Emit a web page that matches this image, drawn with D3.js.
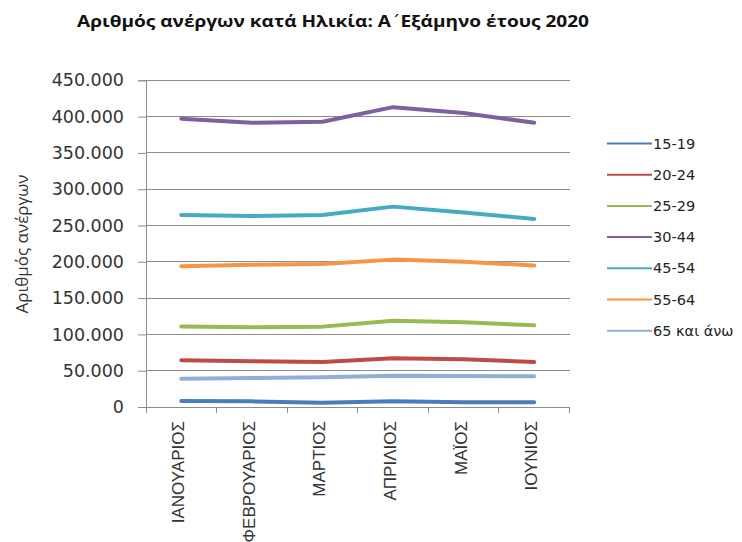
<!DOCTYPE html>
<html><head><meta charset="utf-8">
<script src="https://cdn.jsdelivr.net/npm/d3@7"></script>
<style>body{margin:0;background:#fff}svg{display:block}</style>
</head><body><svg id="c" width="742" height="542"></svg>
<script>
const months = ["ΙΑΝΟΥΑΡΙΟΣ","ΦΕΒΡΟΥΑΡΙΟΣ","ΜΑΡΤΙΟΣ","ΑΠΡΙΛΙΟΣ","ΜΑΪΟΣ","ΙΟΥΝΙΟΣ"];
const seriesNames = ["15-19","20-24","25-29","30-44","45-54","55-64","65 και άνω"];
const seriesColors = ["#4A7EBB","#BE4B48","#98B954","#7D60A0","#46AAC5","#F69546","#92AED6"];
const v15_19 = [8300, 7800, 6000, 7800, 6500, 6500];
const v20_24 = [64300, 63000, 62000, 67000, 65700, 62000];
const v25_29 = [111000, 109700, 110700, 118900, 116600, 112500];
const v30_44 = [397000, 391500, 393000, 413000, 405000, 391500];
const v45_54 = [264500, 263000, 264500, 276000, 268000, 259000];
const v55_64 = [194000, 196000, 197000, 203000, 200000, 195000];
const v65 = [39000, 40000, 41000, 43000, 42700, 42300];
const yTicks = [0,50000,100000,150000,200000,250000,300000,350000,400000,450000];
const title = "Αριθμός ανέργων κατά Ηλικία: Α΄Εξάμηνο έτους 2020";
const yTitle = "Αριθμός ανέργων";

const seriesValues = [v15_19, v20_24, v25_29, v30_44, v45_54, v55_64, v65];
const svg = d3.select("#c");
const L = 146, R = 569.5, T = 80.3, B = 407;
const x = d3.scaleBand().domain(months).range([L, R]);
const y = d3.scaleLinear().domain([0, 450000]).range([B, T]);
const fmt = d => d3.format(",")(d).replace(/,/g, ".");

// gridlines
svg.append("g").selectAll("line").data(yTicks.filter(d => d > 0)).join("line")
  .attr("x1", L).attr("x2", R).attr("y1", d => y(d)).attr("y2", d => y(d))
  .attr("stroke", "#8c8c8c").attr("stroke-width", 1).attr("shape-rendering","crispEdges");

// y axis
const ya = svg.append("g").attr("transform", `translate(${L},0)`)
  .call(d3.axisLeft(y).tickValues(yTicks).tickFormat(fmt).tickSizeOuter(0).tickSize(8).tickPadding(14));
ya.select(".domain").attr("stroke", "#8c8c8c");
ya.selectAll(".tick line").attr("stroke", "#8c8c8c");
ya.selectAll("text").attr("font-family", "DejaVu Sans").attr("font-size", 17.5).attr("fill", "#333");

// x axis
const xa = svg.append("g").attr("transform", `translate(0,${B})`)
  .call(d3.axisBottom(x).tickSize(6).tickSizeOuter(0));
xa.select(".domain").attr("stroke", "#8c8c8c");
xa.selectAll(".tick line").remove();
xa.selectAll(".tick text").remove();
xa.append("g").selectAll("line").data(d3.range(months.length + 1)).join("line")
  .attr("x1", i => L + i * x.step()).attr("x2", i => L + i * x.step())
  .attr("y1", 0).attr("y2", 6).attr("stroke", "#8c8c8c").attr("shape-rendering","crispEdges");
xa.append("g").selectAll("text").data(months).join("text")
  .attr("transform", d => `translate(${x(d) + x.bandwidth()/2 - 3},14) rotate(-90)`)
  .attr("text-anchor", "end").attr("dy", "0.35em")
  .attr("font-family", "Liberation Sans").attr("font-size", 17).attr("fill", "#333")
  .text(d => d);

// lines
const line = d3.line().x((d, i) => x(months[i]) + x.bandwidth()/2).y(d => y(d));
svg.append("g").selectAll("path").data(seriesValues).join("path")
  .attr("d", d => line(d)).attr("fill", "none")
  .attr("stroke", (d, i) => seriesColors[i]).attr("stroke-width", 4)
  .attr("stroke-linejoin", "round").attr("stroke-linecap", "round");

// legend
const lg = svg.append("g");
const rowY = i => 143.5 + i * 31.2;
lg.selectAll("line").data(seriesNames).join("line")
  .attr("x1", 607).attr("x2", 652).attr("y1", (d, i) => rowY(i)).attr("y2", (d, i) => rowY(i))
  .attr("stroke", (d, i) => seriesColors[i]).attr("stroke-width", 2);
lg.selectAll("text").data(seriesNames).join("text")
  .attr("x", 653).attr("y", (d, i) => rowY(i)).attr("dy", "0.35em")
  .attr("font-family", "DejaVu Sans").attr("font-size", 14.5).attr("fill", "#222")
  .text(d => d);

// title (tonos drawn in a font that gives it a spacing advance)
const tIdx = title.indexOf("΄");
const tt = svg.append("text").attr("x", 77).attr("y", 27)
  .attr("font-family", "Open Sans").attr("font-weight", 700).attr("font-size", 16)
  .attr("textLength", 512).attr("lengthAdjust", "spacingAndGlyphs")
  .attr("fill", "#111");
tt.append("tspan").text(title.slice(0, tIdx));
tt.append("tspan").attr("font-family", "DejaVu Sans").attr("font-weight", 400).text(title.slice(tIdx, tIdx + 1));
tt.append("tspan").text(title.slice(tIdx + 1));

// y title
svg.append("text").attr("transform", "translate(28,244) rotate(-90)").attr("text-anchor", "middle")
  .attr("font-family", "Open Sans").attr("font-size", 17).attr("fill", "#333").text(yTitle);
</script></body></html>
